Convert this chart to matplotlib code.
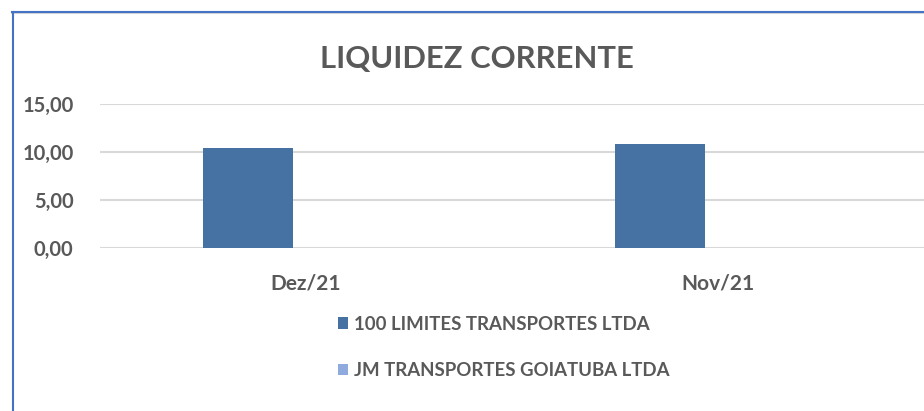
import matplotlib
matplotlib.use("Agg")
import matplotlib.pyplot as plt
from matplotlib.lines import Line2D
import numpy as np

categories = ["Dez/21", "Nov/21"]
series_names = ["100 LIMITES TRANSPORTES LTDA", "JM TRANSPORTES GOIATUBA LTDA"]
limites_values = [10.37, 10.82]
goiatuba_values = [0.0, 0.0]
y_ticks = [0, 5, 10, 15]
y_tick_labels = ["0,00", "5,00", "10,00", "15,00"]

text_color = "#595959"
bar_colors = ["#4571A3", "#8FAADC"]
font = "Lato"

fig = plt.figure(figsize=(9.24, 4.11), dpi=100)
ax = fig.add_axes([100 / 924, 1 - 248 / 411, 824 / 924, 144 / 411])

x = np.arange(len(categories))
width = 0.22
offset = 0.141
b1 = ax.bar(x - offset, limites_values, width, color=bar_colors[0], label=series_names[0], zorder=3)
b2 = ax.bar(x + offset, goiatuba_values, width, color=bar_colors[1], label=series_names[1], zorder=3)

ax.set_xlim(-0.5, 1.5)
ax.set_ylim(0, 15)
ax.set_yticks(y_ticks)
ax.set_yticklabels(y_tick_labels, fontsize=14.5, fontweight="bold", color=text_color, family=font)
ax.set_xticks(x)
ax.set_xticklabels(categories, fontsize=15, fontweight="bold", color=text_color, family=font)
ax.tick_params(axis="y", length=0, pad=19)
ax.tick_params(axis="x", length=0, pad=18)
ax.grid(axis="y", color="#D9D9D9", linewidth=1.5, zorder=0)
for s in ax.spines.values():
    s.set_visible(False)

fig.text(477 / 924, 1 - 59.5 / 411, "LIQUIDEZ CORRENTE", ha="center", va="center",
         fontsize=22.3, fontweight="bold", color=text_color, family=font)

leg = fig.legend(handles=[b1, b2], labels=series_names, loc="upper left",
                 bbox_to_anchor=(338 / 924, 1 - 315.5 / 411), frameon=False,
                 prop={"family": font, "weight": "bold", "size": 13.4},
                 handlelength=0.55, handleheight=0.55, handletextpad=0.3,
                 labelspacing=1.59, borderpad=0, borderaxespad=0)
for t in leg.get_texts():
    t.set_color(text_color)

# chart frame edges
fig.add_artist(Line2D([12 / 924, 1], [1 - 13.5 / 411, 1 - 13.5 / 411], color="#D6D6D6",
                      linewidth=1.5, transform=fig.transFigure))
fig.add_artist(Line2D([12 / 924, 1], [1 - 12 / 411, 1 - 12 / 411], color="#4472C4",
                      linewidth=1.5, transform=fig.transFigure))
fig.add_artist(Line2D([12.5 / 924, 12.5 / 924], [0, 1 - 12 / 411], color="#4472C4",
                      linewidth=1.5, transform=fig.transFigure))

fig.savefig("out.png", dpi=100)
